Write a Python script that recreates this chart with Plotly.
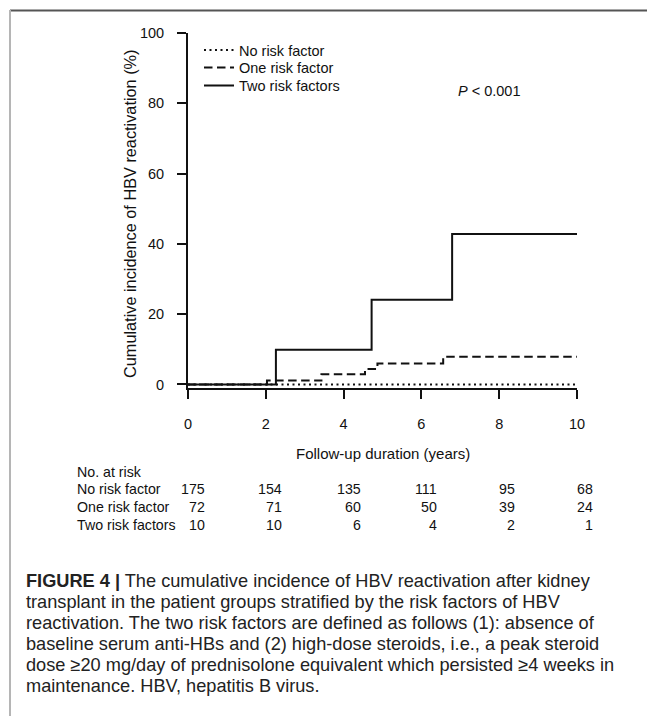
import plotly.graph_objects as go

# ---------------- data ----------------
years_two = [0, 2.26, 4.72, 6.79, 10]
cum_two = [0, 9.9, 24.1, 42.8, 42.8]

years_one = [0, 2.03, 3.43, 4.55, 4.87, 6.56, 10]
cum_one = [0, 1.1, 2.9, 4.4, 6.0, 7.9, 7.9]

years_none = [0, 10]
cum_none = [0, 0]

series_names = ["No risk factor", "One risk factor", "Two risk factors"]

risk_years = [0, 2, 4, 6, 8, 10]
at_risk_none = [175, 154, 135, 111, 95, 68]
at_risk_one = [72, 71, 60, 50, 39, 24]
at_risk_two = [10, 10, 6, 4, 2, 1]

x_ticks = [0, 2, 4, 6, 8, 10]
y_ticks = [0, 20, 40, 60, 80, 100]

caption_lines = [
    "<b>FIGURE 4 |</b> The cumulative incidence of HBV reactivation after kidney",
    "transplant in the patient groups stratified by the risk factors of HBV",
    "reactivation. The two risk factors are defined as follows (1): absence of",
    "baseline serum anti-HBs and (2) high-dose steroids, i.e., a peak steroid",
    "dose \u226520 mg/day of prednisolone equivalent which persisted \u22654 weeks in",
    "maintenance. HBV, hepatitis B virus.",
]

# ---------------- layout geometry (pixels) ----------------
W_FIG, H_FIG = 647, 716
L, R, T, B = 188, 577, 33, 388
PW, PH = R - L, B - T

def px_x(px):
    return (px - L) / PW

def px_y(py):
    return (B - py) / PH

FONT = "Liberation Sans, Arial, sans-serif"
BLACK = "#111111"

fig = go.Figure()

styles = [
    dict(color=BLACK, width=2, dash="2px,3.5px", shape="hv"),
    dict(color=BLACK, width=2, dash="8.5px,4.5px", shape="hv"),
    dict(color=BLACK, width=2, shape="hv"),
]
legend_ids = ["legend", "legend2", "legend3"]
for xs, ys, name, st, lg in zip([years_none, years_one, years_two], [cum_none, cum_one, cum_two],
                                series_names, styles, legend_ids):
    fig.add_trace(go.Scatter(x=xs, y=ys, mode="lines", name=name, line=st, legend=lg,
                             hoverinfo="skip"))

annotations = []

# P value
annotations.append(dict(text="<i>P</i> < 0.001", x=px_x(456), y=px_y(91), xref="paper", yref="paper",
                        xanchor="left", yanchor="middle", showarrow=False,
                        font=dict(family=FONT, size=14.5, color=BLACK)))

# Axis titles
annotations.append(dict(text="Follow-up duration (years)", x=0.5, y=px_y(453), xref="paper", yref="paper",
                        xanchor="center", yanchor="middle", showarrow=False,
                        font=dict(family=FONT, size=15, color=BLACK)))
annotations.append(dict(text="Cumulative incidence of HBV reactivation (%)", x=px_x(130), y=px_y(214),
                        xref="paper", yref="paper", xanchor="center", yanchor="middle", textangle=-90,
                        showarrow=False, font=dict(family=FONT, size=16.3, color=BLACK)))

# Number at risk table
row_y = [489, 507, 525]
col_right = [207, 284, 363, 439, 517, 595]
TABLE_FS = 14.2
annotations.append(dict(text="No. at risk", x=px_x(75), y=px_y(472), xref="paper", yref="paper",
                        xanchor="left", yanchor="middle", showarrow=False,
                        font=dict(family=FONT, size=TABLE_FS, color=BLACK)))
for name, counts, ry in zip(series_names, [at_risk_none, at_risk_one, at_risk_two], row_y):
    annotations.append(dict(text=name, x=px_x(75), y=px_y(ry), xref="paper", yref="paper",
                            xanchor="left", yanchor="middle", showarrow=False,
                            font=dict(family=FONT, size=TABLE_FS, color=BLACK)))
    for c, cx in zip(counts, col_right):
        annotations.append(dict(text=str(c), x=px_x(cx), y=px_y(ry), xref="paper", yref="paper",
                                xanchor="right", yanchor="middle", showarrow=False,
                                font=dict(family=FONT, size=TABLE_FS, color=BLACK)))

# Caption
cap_y0, cap_dy = 581, 20.9
for i, line in enumerate(caption_lines):
    annotations.append(dict(text=line, x=px_x(24), y=px_y(cap_y0 + i * cap_dy), xref="paper", yref="paper",
                            xanchor="left", yanchor="middle", showarrow=False,
                            font=dict(family=FONT, size=18.2, color="#222222")))

shapes = [
    dict(type="line", xref="paper", yref="paper", x0=px_x(10), x1=px_x(647), y0=px_y(10.5), y1=px_y(10.5),
         line=dict(color="#555555", width=2)),
    dict(type="line", xref="paper", yref="paper", x0=px_x(10), x1=px_x(10), y0=px_y(10), y1=px_y(716),
         line=dict(color="#b5b5b5", width=2)),
]

legend_rows = [51, 68.5, 86.5]
leg_common = dict(xanchor="left", yanchor="top", bgcolor="rgba(0,0,0,0)",
                  font=dict(family=FONT, size=14.5, color=BLACK), itemwidth=30)

fig.update_layout(
    width=W_FIG, height=H_FIG,
    margin=dict(l=L, r=W_FIG - R, t=T, b=H_FIG - B, pad=0),
    paper_bgcolor="white", plot_bgcolor="white",
    showlegend=True,
    hovermode=False,
    legend=dict(x=px_x(199), y=px_y(legend_rows[0] - 17), **leg_common),
    legend2=dict(x=px_x(199), y=px_y(legend_rows[1] - 17), **leg_common),
    legend3=dict(x=px_x(199), y=px_y(legend_rows[2] - 17), **leg_common),
    xaxis=dict(range=[0, 10], tickvals=x_ticks, showline=True, linecolor=BLACK, linewidth=1.8,
               ticks="outside", ticklen=9, tickwidth=1.8, tickcolor=BLACK, showgrid=False, zeroline=False,
               tickfont=dict(family=FONT, size=14.5, color=BLACK), ticklabelstandoff=13),
    yaxis=dict(range=[-1.0, 100], tickvals=y_ticks, showline=True, linecolor=BLACK, linewidth=1.8,
               ticks="outside", ticklen=9, tickwidth=1.8, tickcolor=BLACK, showgrid=False, zeroline=False,
               tickfont=dict(family=FONT, size=14.5, color=BLACK), ticklabelstandoff=10),
    annotations=annotations,
    shapes=shapes,
)

fig.write_html("out.html", config={"displayModeBar": False},
               post_script="document.body.style.margin='0px';")
